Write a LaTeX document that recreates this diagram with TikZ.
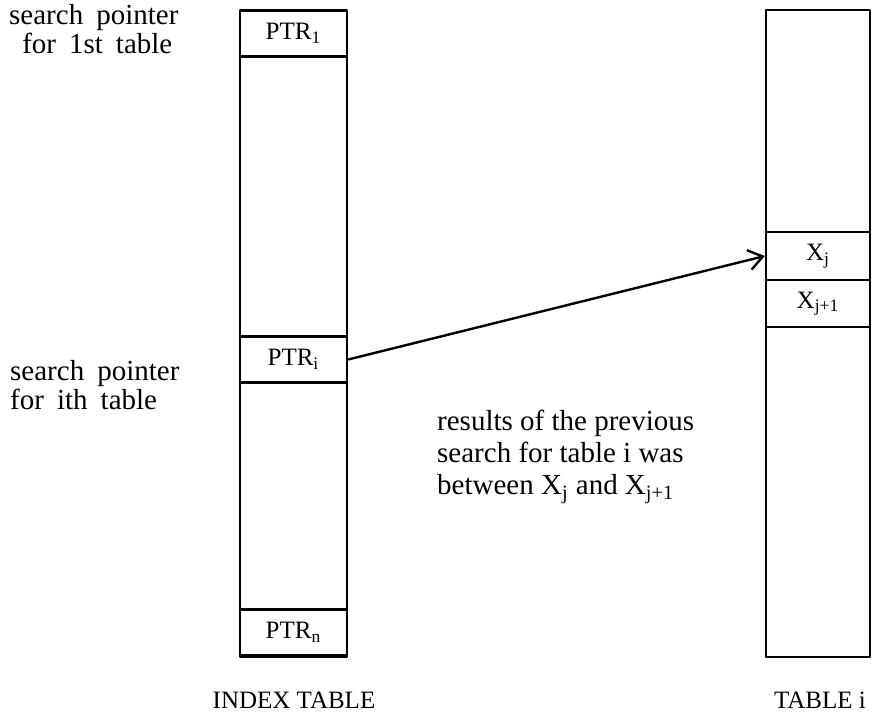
\documentclass[tikz,border=0pt]{standalone}
\usepackage{fontspec}
\setmainfont{Liberation Serif}
\usepackage{tikz}
\usetikzlibrary{arrows.meta}

% looser word spacing for the side labels
\protected\def\widewords{\spaceskip=0.45em\relax}

\begin{document}
\begin{tikzpicture}
        [x=0.5pt, y=-0.5pt, line width=1.2pt, line join=round,
         every node/.style={font=\fontsize{12.5}{15.5}\selectfont, inner sep=0pt},
         cell/.style={draw, minimum width=53.5pt, minimum height=23pt},
         note/.style={anchor=west, align=left, font=\fontsize{14.5}{14.5}\selectfont\widewords}]
        \useasboundingbox (0,0) rectangle (884,719);

        % the two tables
        \draw (240,11) rectangle (347,657);
        \draw (766,10) rectangle (870,657);

        % pointer cells of the index table
        \foreach \name/\y/\sub in {ptr1/33.5/1, ptri/359.5/i, ptrn/632.5/n}
        \node[cell] (\name) at (293.5,\y) {PTR\textsubscript{\sub}};

        % entries of table i
        \node[cell, minimum width=52pt, minimum height=24pt] (xj) at (818,256) {X\textsubscript{j}};
        \node[cell, minimum width=52pt, minimum height=23.5pt] (xj1) at (818,303.5) {X\textsubscript{j+1}};

        \node[note] (first) at (8,29) {search pointer\\\ for 1st table};
        \node[note] (ith) at (9,385) {search pointer\\for ith table};
        \node[note, font=\fontsize{14.5}{16}\selectfont] (result) at (436,457) {results of the previous\\search for table i was\\between X\textsubscript{j} and X\textsubscript{j+1}};

        \node (index) at (294,700) {INDEX TABLE};
        \node (tablei) at (820,700) {TABLE i};

        \draw[-{Straight Barb[length=7pt, width=10pt]}] (ptri.east) -- (xj.west);
    \end{tikzpicture}
\end{document}
